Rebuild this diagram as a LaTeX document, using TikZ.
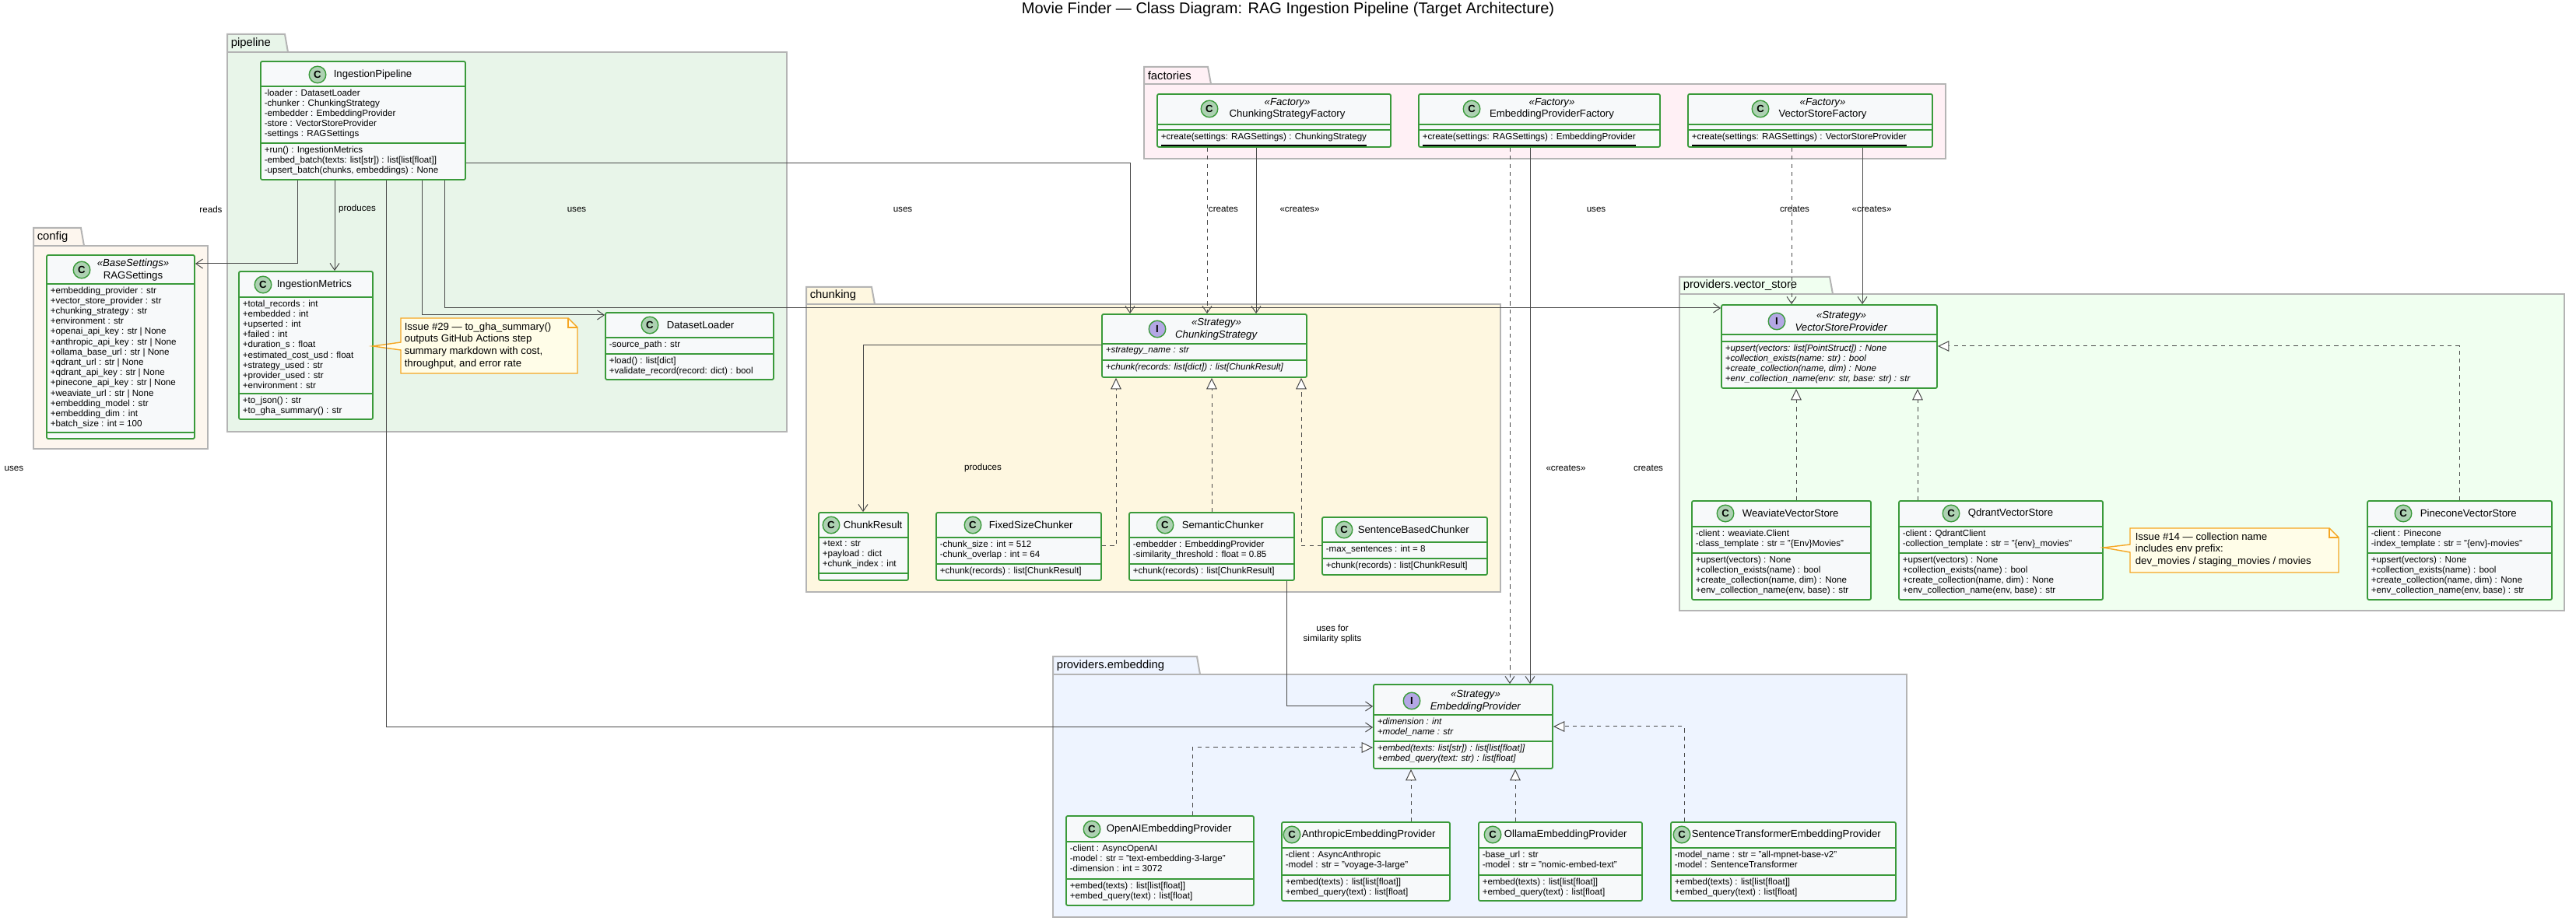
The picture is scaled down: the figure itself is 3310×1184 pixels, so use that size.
\documentclass[tikz,border=0pt]{standalone}
\usepackage{fontspec}
\setmainfont{Liberation Sans}
\usetikzlibrary{arrows.meta,fit}
\definecolor{cbord}{HTML}{3A9A3A}
\definecolor{cfill}{HTML}{F7F9FA}
\definecolor{ccirc}{HTML}{ADD1B2}
\definecolor{icirc}{HTML}{B4A7E5}
\definecolor{pkgb}{HTML}{B4B4B4}
\definecolor{pkpipe}{HTML}{E8F5E9}
\definecolor{pkconf}{HTML}{FDF6EE}
\definecolor{pkfact}{HTML}{FFF0F5}
\definecolor{pkchunk}{HTML}{FEF7E0}
\definecolor{pkvec}{HTML}{F0FFF0}
\definecolor{pkemb}{HTML}{EEF4FF}
\definecolor{notef}{HTML}{FFFDE8}
\definecolor{noteb}{HTML}{F5A623}
\definecolor{lnk}{HTML}{4A4A4A}
\newcommand\fs{\fontsize{2.9}{3.3}\selectfont}
\newcommand\fst{\fontsize{3.3}{3.9}\selectfont}
\tikzset{
 box/.style={draw=cbord,fill=cfill,line width=0.45pt,rounded corners=0.5pt,inner sep=0pt},
 sep/.style={draw=cbord,line width=0.45pt},
 pkg/.style={draw=pkgb,line width=0.5pt},
 txt/.style={inner sep=0pt,align=left,anchor=north west,font=\fs},
 ttl/.style={inner sep=0pt,align=center,font=\fst},
 ttw/.style={inner sep=0pt,anchor=west,font=\fst},
 ccl/.style={circle,draw=cbord,fill=ccirc,line width=0.35pt,minimum size=5.4pt,inner sep=0pt,font=\bfseries\fst},
 icl/.style={ccl,fill=icirc},
 lbl/.style={inner sep=0pt,font=\fs},
 dep/.style={draw=lnk,line width=0.25pt,-{Straight Barb[length=2.2pt,width=3pt]}},
 ddep/.style={dep,dash pattern=on 1.3pt off 1.3pt},
 real/.style={draw=lnk,line width=0.25pt,dash pattern=on 1.3pt off 1.3pt,-{Triangle[open,length=3.6pt,width=3.4pt,fill=white]}},
 note/.style={draw=noteb,fill=notef,line width=0.35pt},
}
\newcommand\ucls[9]{%
 \node[box,fit={(#2,#3) (#4,#5)}] (#1) {};
 \draw[sep] (#2,#6) -- (#4,#6) (#2,#7) -- (#4,#7);
 \node[txt] (#1a) at (#2+4,#6+3) {#8};
 \node[txt] (#1m) at (#2+4,#7+3) {#9};}
\newcommand\upkg[9]{% name x1 y1(tab top) xt ytab x2 y2 color label
 \fill[#8] (#2,#3) -- (#4,#3) -- (#4+4,#5) -- (#2,#5) -- cycle;
 \draw[pkg] (#2,#5) -- (#2,#3) -- (#4,#3) -- (#4+4,#5);
 \fill[#8] (#2,#5) rectangle (#6,#7);
 \draw[pkg] (#2,#5) rectangle (#6,#7);
 \node[inner sep=0pt,anchor=west,font=\fontsize{3.7}{4}\selectfont] (#1) at (#2+4,{(#3+#5)/2}) {#9};}
\begin{document}
\begin{tikzpicture}[x=0.25pt,y=-0.25pt]
\useasboundingbox (0,0) rectangle (3310,1184);
\node[inner sep=0pt,font=\fontsize{5}{6}\selectfont] (title) at (1655,12) {Movie Finder — Class Diagram: RAG Ingestion Pipeline (Target Architecture)};

% packages
\upkg{pkpipeline}{292}{44}{366}{67}{1011}{555}{pkpipe}{pipeline}
\upkg{pkconfig}{43}{293}{104}{316}{267}{577}{pkconf}{config}
\upkg{pkfactories}{1470}{86}{1552}{108}{2500}{204}{pkfact}{factories}
\upkg{pkchunking}{1036}{369}{1120}{391}{1928}{761}{pkchunk}{chunking}
\upkg{pkvector}{2158}{356}{2351}{378}{3295}{785}{pkvec}{providers.vector\_store}
\upkg{pkembedding}{1353}{844}{1538}{867}{2450}{1179}{pkemb}{providers.embedding}

% pipeline
\ucls{ip}{335}{79}{598}{231}{111}{184}{-loader : DatasetLoader\\-chunker : ChunkingStrategy\\-embedder : EmbeddingProvider\\-store : VectorStoreProvider\\-settings : RAGSettings}{+run() : IngestionMetrics\\-embed\_batch(texts: list[str]) : list[list[float]]\\-upsert\_batch(chunks, embeddings) : None}
\node[ccl] (ipc) at (408,96) {C}; \node[ttw] (ipt) at (428,96) {IngestionPipeline};
\ucls{rag}{60}{328}{250}{564}{365}{556}{+embedding\_provider : str\\+vector\_store\_provider : str\\+chunking\_strategy : str\\+environment : str\\+openai\_api\_key : str | None\\+anthropic\_api\_key : str | None\\+ollama\_base\_url : str | None\\+qdrant\_url : str | None\\+qdrant\_api\_key : str | None\\+pinecone\_api\_key : str | None\\+weaviate\_url : str | None\\+embedding\_model : str\\+embedding\_dim : int\\+batch\_size : int = 100}{}
\node[ccl] (ragc) at (105,347) {C}; \node[ttl] (ragt) at (171,347) {\textit{«BaseSettings»}\\RAGSettings};
\ucls{im}{307}{349}{479}{539}{382}{506}{+total\_records : int\\+embedded : int\\+upserted : int\\+failed : int\\+duration\_s : float\\+estimated\_cost\_usd : float\\+strategy\_used : str\\+provider\_used : str\\+environment : str}{+to\_json() : str\\+to\_gha\_summary() : str}
\node[ccl] (imc) at (338,366) {C}; \node[ttw] (imt) at (355,366) {IngestionMetrics};
\ucls{dl}{778}{402}{994}{488}{434}{455}{-source\_path : str}{+load() : list[dict]\\+validate\_record(record: dict) : bool}
\node[ccl] (dlc) at (835,418) {C}; \node[ttw] (dlt) at (856,418) {DatasetLoader};
% note 29
\draw[note] (515,409) -- (730,409) -- (742,421) -- (742,480) -- (515,480) -- (515,450) -- (479,445) -- (515,440) -- cycle;
\draw[note,fill=none] (730,409) -- (730,421) -- (742,421);
\node[txt,font=\fst] (n29) at (519,414) {Issue \#29 — to\_gha\_summary()\\outputs GitHub Actions step\\summary markdown with cost,\\throughput, and error rate};

% factories
\ucls{csf}{1487}{121}{1787}{189}{160}{167}{}{\underline{+create(settings: RAGSettings) : ChunkingStrategy}}
\node[ccl] (csfc) at (1554,140) {C}; \node[ttl] (csft) at (1654,140) {\textit{«Factory»}\\ChunkingStrategyFactory};
\ucls{epf}{1823}{121}{2133}{189}{160}{167}{}{\underline{+create(settings: RAGSettings) : EmbeddingProvider}}
\node[ccl] (epfc) at (1891,140) {C}; \node[ttl] (epft) at (1994,140) {\textit{«Factory»}\\EmbeddingProviderFactory};
\ucls{vsf}{2169}{121}{2483}{189}{160}{167}{}{\underline{+create(settings: RAGSettings) : VectorStoreProvider}}
\node[ccl] (vsfc) at (2262,140) {C}; \node[ttl] (vsft) at (2342,140) {\textit{«Factory»}\\VectorStoreFactory};

% chunking
\ucls{cs}{1416}{404}{1679}{485}{442}{463}{\textit{+strategy\_name : str}}{\textit{+chunk(records: list[dict]) : list[ChunkResult]}}
\node[icl] (csc) at (1487,423) {I}; \node[ttl] (cst) at (1563,423) {\textit{«Strategy»}\\\textit{ChunkingStrategy}};
\ucls{cr}{1052}{659}{1167}{746}{691}{737}{+text : str\\+payload : dict\\+chunk\_index : int}{}
\node[ccl] (crc) at (1068,675) {C}; \node[ttw] (crt) at (1083,675) {ChunkResult};
\ucls{fx}{1203}{659}{1415}{746}{691}{725}{-chunk\_size : int = 512\\-chunk\_overlap : int = 64}{+chunk(records) : list[ChunkResult]}
\node[ccl] (fxc) at (1250,675) {C}; \node[ttw] (fxt) at (1270,675) {FixedSizeChunker};
\ucls{sc}{1451}{659}{1663}{746}{691}{725}{-embedder : EmbeddingProvider\\-similarity\_threshold : float = 0.85}{+chunk(records) : list[ChunkResult]}
\node[ccl] (scc) at (1497,675) {C}; \node[ttw] (sct) at (1518,675) {SemanticChunker};
\ucls{sb}{1699}{665}{1911}{739}{697}{718}{-max\_sentences : int = 8}{+chunk(records) : list[ChunkResult]}
\node[ccl] (sbc) at (1727,681) {C}; \node[ttw] (sbt) at (1744,681) {SentenceBasedChunker};

% vector store
\ucls{vsp}{2212}{392}{2489}{499}{430}{439}{}{\textit{+upsert(vectors: list[PointStruct]) : None}\\\textit{+collection\_exists(name: str) : bool}\\\textit{+create\_collection(name, dim) : None}\\\textit{+env\_collection\_name(env: str, base: str) : str}}
\node[icl] (vspc) at (2283,413) {I}; \node[ttl] (vspt) at (2366,413) {\textit{«Strategy»}\\\textit{VectorStoreProvider}};
\ucls{wv}{2174}{644}{2404}{771}{677}{711}{-client : weaviate.Client\\-class\_template : str = "\{Env\}Movies"}{+upsert(vectors) : None\\+collection\_exists(name) : bool\\+create\_collection(name, dim) : None\\+env\_collection\_name(env, base) : str}
\node[ccl] (wvc) at (2217,660) {C}; \node[ttw] (wvt) at (2238,660) {WeaviateVectorStore};
\ucls{qd}{2440}{644}{2702}{771}{677}{711}{-client : QdrantClient\\-collection\_template : str = "\{env\}\_movies"}{+upsert(vectors) : None\\+collection\_exists(name) : bool\\+create\_collection(name, dim) : None\\+env\_collection\_name(env, base) : str}
\node[ccl] (qdc) at (2507,660) {C}; \node[ttw] (qdt) at (2528,660) {QdrantVectorStore};
\ucls{pc}{3042}{644}{3279}{771}{677}{711}{-client : Pinecone\\-index\_template : str = "\{env\}-movies"}{+upsert(vectors) : None\\+collection\_exists(name) : bool\\+create\_collection(name, dim) : None\\+env\_collection\_name(env, base) : str}
\node[ccl] (pcc) at (3088,660) {C}; \node[ttw] (pct) at (3109,660) {PineconeVectorStore};
\draw[note] (2737,679) -- (2993,679) -- (3005,691) -- (3005,736) -- (2737,736) -- (2737,710) -- (2703,704) -- (2737,700) -- cycle;
\draw[note,fill=none] (2993,679) -- (2993,691) -- (3005,691);
\node[txt,font=\fst] (n14) at (2743,684) {Issue \#14 — collection name\\includes env prefix:\\dev\_movies / staging\_movies / movies};

% embedding
\ucls{ep}{1765}{880}{1995}{988}{919}{953}{\textit{+dimension : int}\\\textit{+model\_name : str}}{\textit{+embed(texts: list[str]) : list[list[float]]}\\\textit{+embed\_query(text: str) : list[float]}}
\node[icl] (epc) at (1814,901) {I}; \node[ttl] (ept) at (1896,901) {\textit{«Strategy»}\\\textit{EmbeddingProvider}};
\ucls{oa}{1370}{1049}{1611}{1164}{1082}{1130}{-client : AsyncOpenAI\\-model : str = "text-embedding-3-large"\\-dimension : int = 3072}{+embed(texts) : list[list[float]]\\+embed\_query(text) : list[float]}
\node[ccl] (oac) at (1403,1066) {C}; \node[ttw] (oat) at (1421,1066) {OpenAIEmbeddingProvider};
\ucls{an}{1647}{1057}{1863}{1158}{1090}{1125}{-client : AsyncAnthropic\\-model : str = "voyage-3-large"}{+embed(texts) : list[list[float]]\\+embed\_query(text) : list[float]}
\node[ccl] (anc) at (1660,1073) {C}; \node[ttw] (ant) at (1672,1073) {AnthropicEmbeddingProvider};
\ucls{ol}{1900}{1057}{2110}{1158}{1090}{1125}{-base\_url : str\\-model : str = "nomic-embed-text"}{+embed(texts) : list[list[float]]\\+embed\_query(text) : list[float]}
\node[ccl] (olc) at (1918,1073) {C}; \node[ttw] (olt) at (1932,1073) {OllamaEmbeddingProvider};
\ucls{st}{2147}{1057}{2436}{1158}{1090}{1125}{-model\_name : str = "all-mpnet-base-v2"\\-model : SentenceTransformer}{+embed(texts) : list[list[float]]\\+embed\_query(text) : list[float]}
\node[ccl] (stc) at (2161,1073) {C}; \node[ttw] (stt) at (2173,1073) {SentenceTransformerEmbeddingProvider};

% connectors
\draw[dep] (ip.south -| 382,0) |- (rag.east |- 0,339);
\draw[dep] (ip.south -| 430,0) -- (im.north -| 430,0);
\draw[dep] (ip.south -| 496,0) |- (ep.west |- 0,935);
\draw[dep] (ip.south -| 542,0) |- (dl.west |- 0,405);
\draw[dep] (ip.south -| 571,0) |- (vsp.west |- 0,396);
\draw[dep] (ip.east |- 0,210) -| (cs.north -| 1452,0);
\draw[dep] (cs.west |- 0,444) -| (cr.north -| 1109,0);
\draw[real] (fx.east |- 0,702) -| (cs.south -| 1434,0);
\draw[real] (sc.north -| 1557,0) -- (cs.south -| 1557,0);
\draw[real] (sb.west |- 0,702) -| (cs.south -| 1672,0);
\draw[dep] (sc.south -| 1653,0) |- (ep.west |- 0,908);
\draw[ddep] (csf.south -| 1551,0) -- (cs.north -| 1551,0);
\draw[dep] (csf.south -| 1614,0) -- (cs.north -| 1614,0);
\draw[ddep] (epf.south -| 1940,0) -- (ep.north -| 1940,0);
\draw[dep] (epf.south -| 1966,0) -- (ep.north -| 1966,0);
\draw[ddep] (vsf.south -| 2302,0) -- (vsp.north -| 2302,0);
\draw[dep] (vsf.south -| 2393,0) -- (vsp.north -| 2393,0);
\draw[real] (wv.north -| 2308,0) -- (vsp.south -| 2308,0);
\draw[real] (qd.north -| 2464,0) -- (vsp.south -| 2464,0);
\draw[real] (pc.north -| 3160,0) |- (vsp.east |- 0,445);
\draw[real] (oa.north -| 1532,0) |- (ep.west |- 0,961);
\draw[real] (an.north -| 1813,0) -- (ep.south -| 1813,0);
\draw[real] (ol.north -| 1947,0) -- (ep.south -| 1947,0);
\draw[real] (st.north -| 2164,0) |- (ep.east |- 0,934);

% labels
\node[lbl] (l1) at (271,269) {reads};
\node[lbl] (l2) at (459,269) {produces};
\node[lbl] (l3) at (741,269) {uses};
\node[lbl] (l4) at (1160,269) {uses};
\node[lbl] (l5) at (1572,269) {creates};
\node[lbl] (l6) at (1670,269) {«creates»};
\node[lbl] (l7) at (2051,269) {uses};
\node[lbl] (l8) at (2306,269) {creates};
\node[lbl] (l9) at (2405,269) {«creates»};
\node[lbl] (l10) at (18,602) {uses};
\node[lbl] (l11) at (1263,602) {produces};
\node[lbl] (l12) at (2012,602) {«creates»};
\node[lbl] (l13) at (2118,602) {creates};
\node[lbl,align=center] (l14) at (1712,815) {uses for\\similarity splits};
\end{tikzpicture}
\end{document}
